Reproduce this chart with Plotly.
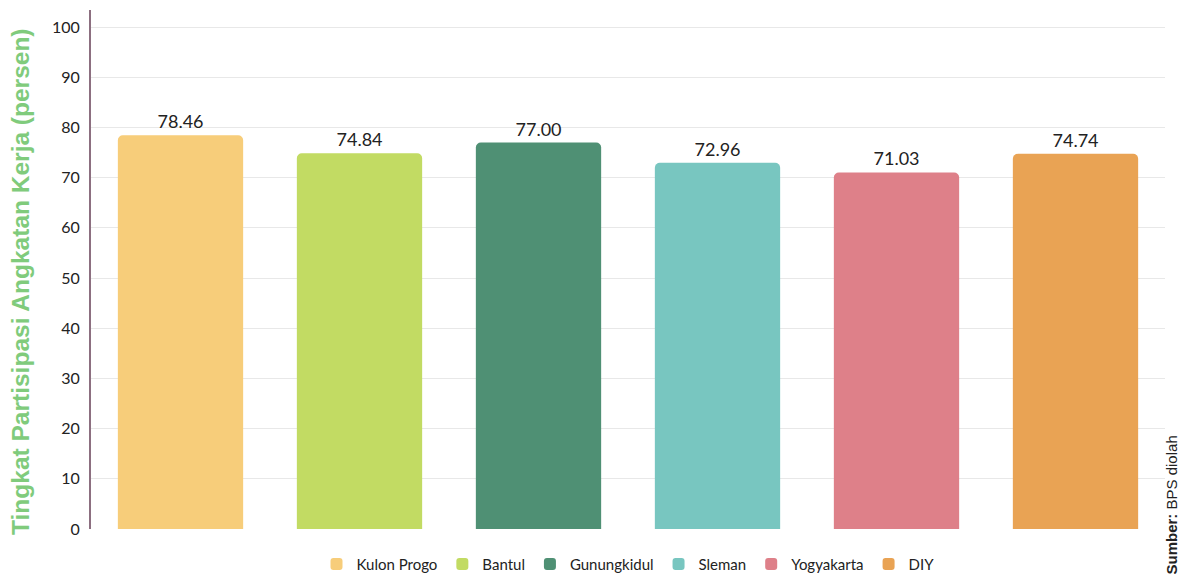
import plotly.graph_objects as go

categories = ["Kulon Progo", "Bantul", "Gunungkidul", "Sleman", "Yogyakarta", "DIY"]
values = [78.46, 74.84, 77.00, 72.96, 71.03, 74.74]
colors = ["#F7CD7A", "#C2DB63", "#4F9074", "#78C6C0", "#DE8089", "#E9A354"]
y_ticks = [0, 10, 20, 30, 40, 50, 60, 70, 80, 90, 100]

fig = go.Figure()
for cat, val, col in zip(categories, values, colors):
    fig.add_trace(go.Bar(
        x=[cat], y=[val], name=cat,
        marker=dict(color=col, line=dict(width=0)),
        text=[f"{val:.2f}"], textposition="outside",
        textfont=dict(family="Lato, Arial", size=18, color="#222222"),
        cliponaxis=False, width=0.7,
    ))

fig.update_layout(
    width=1170, height=571,
    margin=dict(l=83, r=13, t=2, b=50, autoexpand=False),
    plot_bgcolor="white", paper_bgcolor="white",
    barmode="overlay", barcornerradius=5,
    showlegend=True,
    legend=dict(orientation="h", x=0.5, xanchor="center", y=-0.036, yanchor="top",
                font=dict(family="Lato, Arial", size=15, color="#222222"),
                itemwidth=30, traceorder="normal"),
    xaxis=dict(showticklabels=False, showgrid=False, zeroline=False, showline=False,
               categoryorder="array", categoryarray=categories, automargin=False),
    yaxis=dict(range=[0, 103.4], tickvals=y_ticks, showgrid=True, gridcolor="#E8E8E8",
               zeroline=False, showline=True, linecolor="#8C6F80", linewidth=2,
               ticks="", ticklabelstandoff=6, automargin=False,
               tickfont=dict(family="Lato, Arial", size=16, color="#222222")),
)
fig.add_annotation(text="<b>Tingkat Partisipasi Angkatan Kerja (persen)</b>",
                   xref="paper", yref="paper", x=0, y=0.476, xanchor="center", yanchor="middle",
                   xshift=-70, textangle=-90, showarrow=False,
                   font=dict(family="Arial, Liberation Sans", size=24.5, color="#80CB7C"))
fig.add_annotation(text="<b>Sumber:</b> BPS diolah", xref="paper", yref="paper",
                   x=1.0, y=0, xanchor="center", yanchor="bottom", textangle=-90,
                   xshift=6, yshift=-48, showarrow=False,
                   font=dict(family="Arial, Liberation Sans", size=15, color="#222222"))
fig.write_html("out.html")
